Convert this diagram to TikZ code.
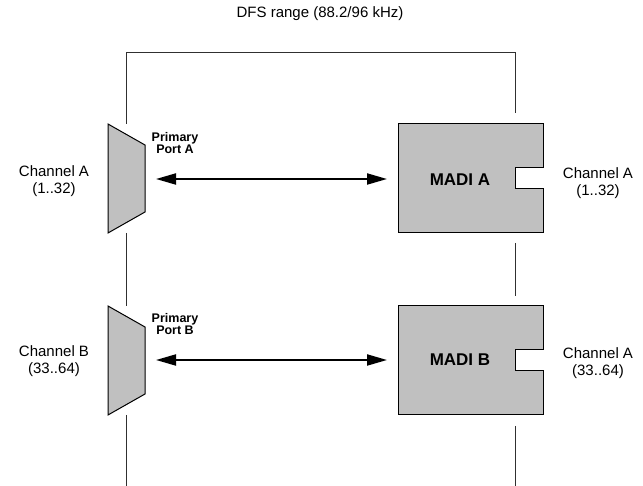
\documentclass[tikz,border=0pt]{standalone}
\usepackage{fontspec}
\setmainfont{Liberation Sans}
\usetikzlibrary{arrows.meta}
\definecolor{boxgray}{HTML}{C0C0C0}
\definecolor{wiregray}{HTML}{303030}
\begin{document}
\begin{tikzpicture}[x=1pt,y=-1pt,
  lbl/.style={align=center,font=\fontsize{15}{16.5}\selectfont,inner sep=0pt},
  portlbl/.style={align=center,font=\bfseries\fontsize{12.5}{12.5}\selectfont,inner sep=0pt},
  madilbl/.style={font=\bfseries\fontsize{17}{20}\selectfont,inner sep=0pt},
  part/.style={fill=boxgray,draw=black,line width=1pt},
  wire/.style={draw=wiregray,line width=0.9pt},
  link/.style={{Triangle[length=20pt,width=11pt]}-{Triangle[length=20pt,width=11pt]},line width=2pt}]
  \useasboundingbox (0,0) rectangle (643,486);

  % DFS range frame
  \node[lbl] (dfs) at (320,14) {DFS range (88.2/96 kHz)};
  \draw[wire] (126,124) -- (126,52) -- (515,52) -- (515,113);
  \draw[wire] (126,233) -- (126,306);
  \draw[wire] (126,415) -- (126,486);
  \draw[wire] (515,243) -- (515,296);
  \draw[wire] (515,426) -- (515,486);

  % primary ports
  \draw[part] (108,124) -- (145,145) -- (145,212) -- (108,233) -- cycle;
  \draw[part] (108,306) -- (145,327) -- (145,394) -- (108,415) -- cycle;
  \node[portlbl] (portAtxt) at (175,143) {Primary\\Port A};
  \node[portlbl] (portBtxt) at (175,324) {Primary\\Port B};

  % MADI blocks
  \draw[part] (398,124) -- (543,124) -- (543,168) -- (515,168) -- (515,189)
    -- (543,189) -- (543,233) -- (398,233) -- cycle;
  \draw[part] (398,306) -- (543,306) -- (543,350) -- (515,350) -- (515,371)
    -- (543,371) -- (543,415) -- (398,415) -- cycle;
  \node[madilbl] (madiA) at (460,180) {MADI A};
  \node[madilbl] (madiB) at (460,360) {MADI B};

  % links
  \coordinate (portA) at (156,179);
  \coordinate (madiAin) at (387,179);
  \coordinate (portB) at (156,360);
  \coordinate (madiBin) at (387,360);
  \draw[link] (portA) -- (madiAin);
  \draw[link] (portB) -- (madiBin);

  % channel labels
  \node[lbl] (chAleft) at (54,181) {Channel A\\(1..32)};
  \node[lbl] (chBleft) at (54,361) {Channel B\\(33..64)};
  \node[lbl] (chAright) at (598,183) {Channel A\\(1..32)};
  \node[lbl] (chBright) at (598,363) {Channel A\\(33..64)};
\end{tikzpicture}
\end{document}
